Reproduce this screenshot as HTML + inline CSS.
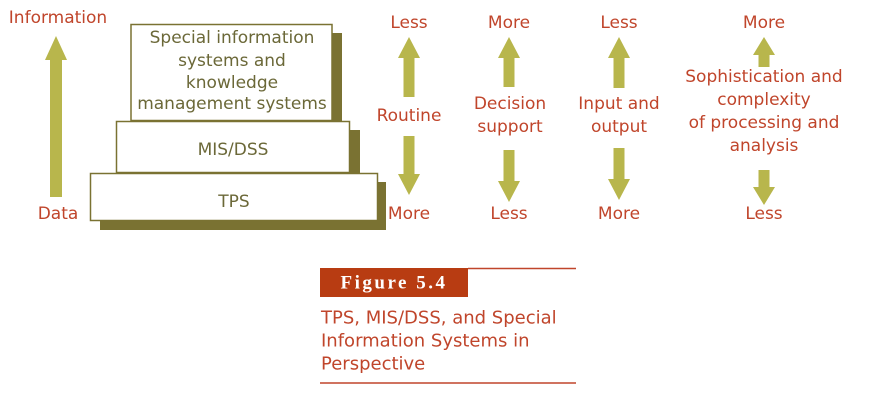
<!DOCTYPE html>
<html><head><meta charset="utf-8"><style>
html,body{margin:0;padding:0;background:#fff;width:891px;height:400px;overflow:hidden}
svg{display:block}
.r{fill:#c0452b;font-family:"DejaVu Sans","Liberation Sans",sans-serif;font-size:17px;text-anchor:middle;dominant-baseline:central}
.c{fill:#c0452b;font-family:"DejaVu Sans","Liberation Sans",sans-serif;font-size:18px;dominant-baseline:central}
.o{fill:#6b6838;font-family:"DejaVu Sans","Liberation Sans",sans-serif;font-size:17px;text-anchor:middle;dominant-baseline:central}
.a{fill:#b8b64c}
</style></head><body>
<svg width="891" height="400" viewBox="0 0 891 400">
<rect x="100" y="182" width="286" height="48" fill="#7a7232"/>
<rect x="126" y="130" width="234" height="52" fill="#7a7232"/>
<rect x="140" y="33" width="202" height="97" fill="#7a7232"/>
<rect x="131" y="24.5" width="201" height="96" fill="#fff" stroke="#7a7232" stroke-width="1.5"/>
<rect x="116.5" y="121.5" width="233" height="51" fill="#fff" stroke="#7a7232" stroke-width="1.5"/>
<rect x="90.5" y="173.5" width="287" height="47" fill="#fff" stroke="#7a7232" stroke-width="1.5"/>
<text class="o" x="232" y="38">Special information</text>
<text class="o" x="232" y="61">systems and</text>
<text class="o" x="232" y="83">knowledge</text>
<text class="o" x="232" y="104">management systems</text>
<text class="o" x="233" y="150">MIS/DSS</text>
<text class="o" x="234" y="202">TPS</text>
<polygon class="a" points="56,36 67,60 62,60 62,197 50,197 50,60 45,60"/>
<text class="r" x="58" y="18">Information</text>
<text class="r" x="58" y="214">Data</text>
<polygon class="a" points="409,37 420,58 414.5,58 414.5,97 403.5,97 403.5,58 398,58"/>
<polygon class="a" points="409,195 420,174 414.5,174 414.5,136 403.5,136 403.5,174 398,174"/>
<text class="r" x="409" y="23">Less</text>
<text class="r" x="409" y="116">Routine</text>
<text class="r" x="409" y="214">More</text>
<polygon class="a" points="509,37 520,58 514.5,58 514.5,87 503.5,87 503.5,58 498,58"/>
<polygon class="a" points="509,202 520,181 514.5,181 514.5,150 503.5,150 503.5,181 498,181"/>
<text class="r" x="509" y="23">More</text>
<text class="r" x="510" y="104">Decision</text>
<text class="r" x="510" y="127">support</text>
<text class="r" x="509" y="214">Less</text>
<polygon class="a" points="619,37 630,58 624.5,58 624.5,88 613.5,88 613.5,58 608,58"/>
<polygon class="a" points="619,200 630,179 624.5,179 624.5,148 613.5,148 613.5,179 608,179"/>
<text class="r" x="619" y="23">Less</text>
<text class="r" x="619" y="104">Input and</text>
<text class="r" x="619" y="127">output</text>
<text class="r" x="619" y="214">More</text>
<polygon class="a" points="764,37 775,55 769.5,55 769.5,67 758.5,67 758.5,55 753,55"/>
<polygon class="a" points="764,205 775,187 769.5,187 769.5,170 758.5,170 758.5,187 753,187"/>
<text class="r" x="764" y="23">More</text>
<text class="r" x="764" y="77">Sophistication and</text>
<text class="r" x="764" y="100">complexity</text>
<text class="r" x="764" y="123">of processing and</text>
<text class="r" x="764" y="146">analysis</text>
<text class="r" x="764" y="214">Less</text>
<rect x="320" y="268" width="148" height="29" fill="#b83c12"/>
<line x1="468" y1="268.5" x2="576" y2="268.5" stroke="#c0452b" stroke-width="1.5"/>
<text x="394" y="283" fill="#fff" font-family="'Liberation Serif',serif" font-weight="bold" font-size="19" letter-spacing="2.5" text-anchor="middle" dominant-baseline="central">Figure 5.4</text>
<text class="c" x="321" y="318">TPS, MIS/DSS, and Special</text>
<text class="c" x="321" y="341">Information Systems in</text>
<text class="c" x="321" y="364">Perspective</text>
<line x1="320" y1="383" x2="576" y2="383" stroke="#c0452b" stroke-width="1.5"/>
</svg>
</body></html>
